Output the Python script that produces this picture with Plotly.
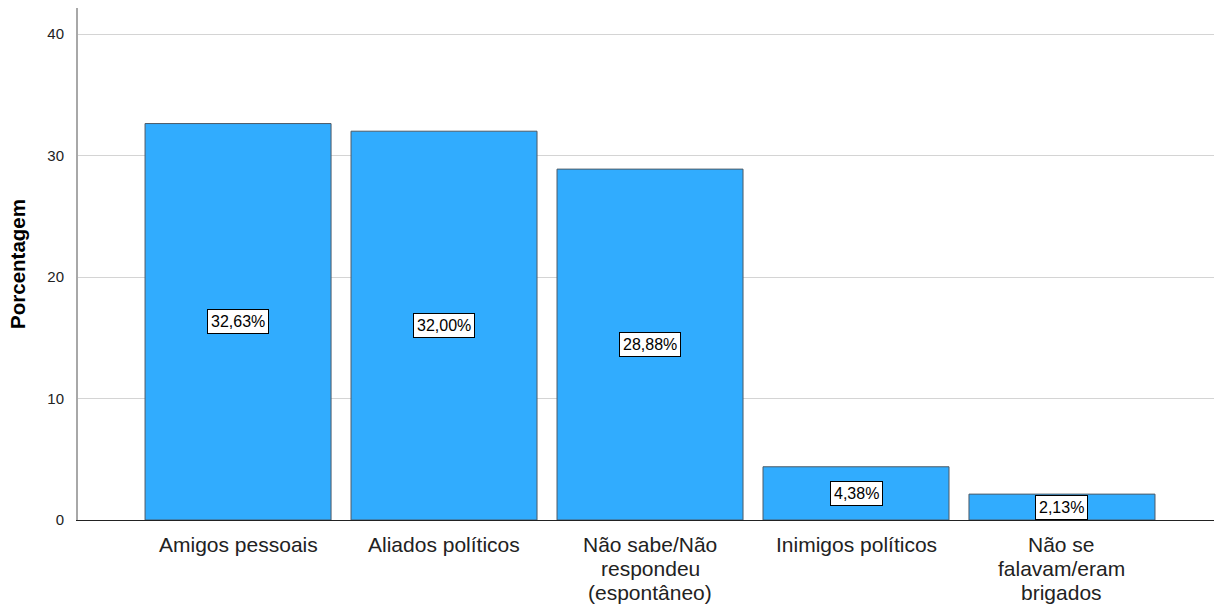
import plotly.graph_objects as go

categories = ["Amigos pessoais", "Aliados políticos", "Não sabe/Não respondeu (espontâneo)",
              "Inimigos políticos", "Não se falavam/eram brigados"]
tick_lines = [["Amigos pessoais"], ["Aliados políticos"],
              ["Não sabe/Não", "respondeu", "(espontâneo)"],
              ["Inimigos políticos"], ["Não se", "falavam/eram", "brigados"]]
values = [32.63, 32.00, 28.88, 4.38, 2.13]
y_ticks = [0, 10, 20, 30, 40]

FONT = "Liberation Sans, Arial, sans-serif"
xs = list(range(len(categories)))

fig = go.Figure()
fig.add_trace(go.Bar(
    x=xs, y=values,
    marker=dict(color="#31acfe", line=dict(color="#4d5a66", width=1)),
    hoverinfo="skip",
))

annotations = []
for x, v in zip(xs, values):
    annotations.append(dict(
        x=x, y=v / 2, xref="x", yref="y",
        text=f"{v:.2f}".replace(".", ",") + "%",
        showarrow=False, bgcolor="white", bordercolor="black", borderwidth=1, borderpad=3,
        font=dict(family=FONT, size=16, color="black"),
    ))
for x, lines in zip(xs, tick_lines):
    for k, line in enumerate(lines):
        annotations.append(dict(
            x=x, y=0, xref="x", yref="paper", yanchor="top",
            yshift=-12 - 24 * k, borderpad=0,
            text=line, showarrow=False,
            font=dict(family=FONT, size=21, color="#222222"),
        ))

fig.update_layout(
    width=1214, height=604,
    margin=dict(l=78, r=0, t=8, b=84, autoexpand=False),
    plot_bgcolor="white", paper_bgcolor="white",
    bargap=0.097,
    showlegend=False,
    annotations=annotations,
    xaxis=dict(
        range=[-0.777, 4.738], showticklabels=False, ticks="", showgrid=False,
        showline=True, linecolor="#222222", linewidth=1, zeroline=False,
        fixedrange=True, automargin=False,
    ),
    yaxis=dict(
        range=[0, 42.14], tickvals=y_ticks, ticktext=[str(t) for t in y_ticks],
        tickfont=dict(family=FONT, size=15, color="#222222"),
        ticks="", ticklen=0, ticklabelstandoff=9,
        showgrid=True, gridcolor="#d4d4d4", gridwidth=1,
        showline=True, linecolor="#a8a8a8", linewidth=2, zeroline=False,
        automargin=False, fixedrange=True,
        title=dict(text="<b>Porcentagem</b>", font=dict(family=FONT, size=20.5, color="black"), standoff=16),
    ),
)

fig.write_html("out.html", config={"displayModeBar": False},
               post_script="document.body.style.margin='0';document.body.style.padding='0';")
